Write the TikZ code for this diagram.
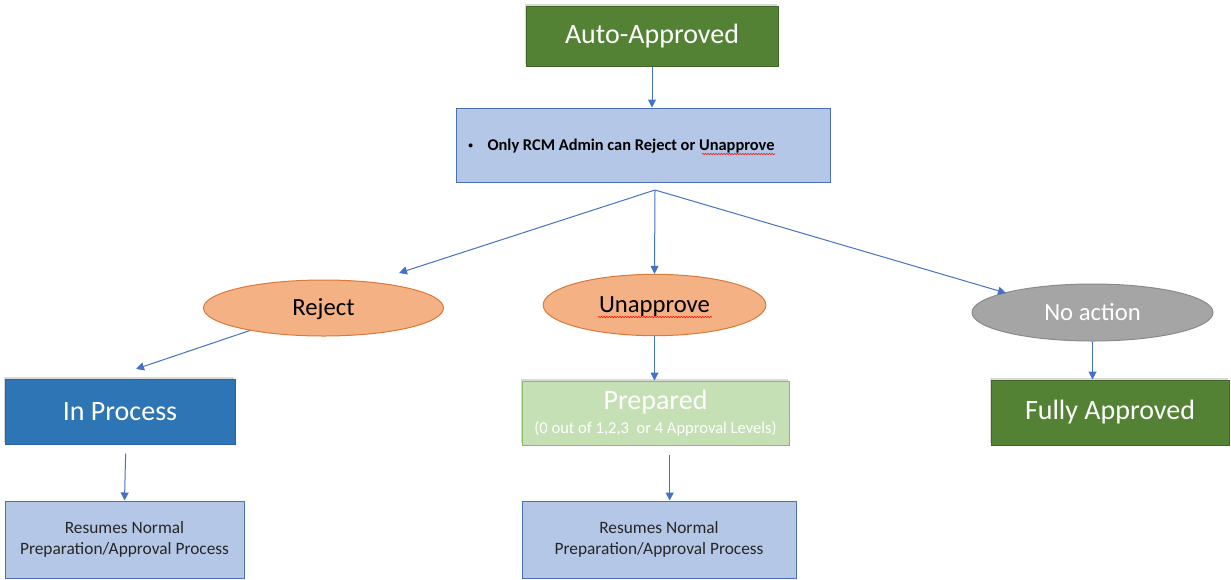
\documentclass[tikz,border=0pt]{standalone}
\usepackage{fontspec}
\setmainfont{Carlito}
\usetikzlibrary{arrows.meta}
\usetikzlibrary{shapes.geometric}
\usetikzlibrary{shadows}
\usetikzlibrary{decorations.pathmorphing}
\definecolor{okgreen}{HTML}{548235}
\definecolor{okgreenline}{HTML}{41662A}
\definecolor{procblue}{HTML}{2E75B6}
\definecolor{procline}{HTML}{2A62A0}
\definecolor{paleblue}{HTML}{B4C7E7}
\definecolor{palebline}{HTML}{4A6FB5}
\definecolor{palegreen}{HTML}{C5E0B4}
\definecolor{palegline}{HTML}{8DB96A}
\definecolor{peach}{HTML}{F4B183}
\definecolor{peachline}{HTML}{D9793A}
\definecolor{stone}{HTML}{A5A5A5}
\definecolor{stoneline}{HTML}{8A8A8A}
\definecolor{flowblue}{HTML}{4472C4}
\definecolor{inktext}{HTML}{262626}

\begin{document}
\begin{tikzpicture}[x=0.75pt, y=-0.75pt,
	shade/.style={drop shadow={shadow xshift=-1pt, shadow yshift=1.5pt, opacity=0.3}},
	bigbox/.style={rectangle, draw, line width=0.75pt, inner sep=0pt, text=white, font=\fontsize{21}{24}\selectfont, shade},
	notebox/.style={rectangle, draw=palebline, fill=paleblue, line width=0.75pt, inner sep=0pt, text=inktext, align=center, font=\fontsize{13}{15.75}\selectfont},
	choice/.style={ellipse, draw, line width=0.75pt, inner sep=0pt, text depth=1pt, font=\fontsize{18.5}{22}\selectfont},
	flow/.style={draw=flowblue, line width=0.75pt, -{Triangle[length=6pt, width=6pt]}},
	spell/.style={draw=red, line width=0.4pt, decorate, decoration={snake, amplitude=0.5pt, segment length=2pt}}]
	\useasboundingbox (0,0) rectangle (1231,579);
	% top
	\node[bigbox, fill=okgreen, draw=okgreenline, minimum width=189pt, minimum height=45pt] (auto) at (652,36) {Auto-Approved};
	\node[rectangle, draw=palebline, fill=paleblue, line width=0.75pt, minimum width=280.5pt, minimum height=55.5pt] (rule) at (643,145) {};
	\node[anchor=base west, inner sep=0pt, font=\fontsize{12.3}{14}\selectfont\bfseries] (ruletext) at (468,150.5)
		{\raisebox{1.5pt}{\fontsize{7}{7}\selectfont\textbullet}\hspace{11pt}Only RCM Admin can Reject or Unapprove};
	\draw[spell] (702,154) -- (775,154);
	\coordinate (split) at (655,190);
	% choices
	\node[choice, fill=peach, draw=peachline, minimum width=180pt, minimum height=42pt] (reject) at (323.5,308) {Reject};
	\node[choice, fill=peach, draw=peachline, minimum width=167pt, minimum height=46pt] (unapp) at (654.5,305) {Unapprove};
	\draw[spell] (598,317) -- (712,317);
	\node[choice, fill=stone, draw=stoneline, text=white, minimum width=180.75pt, minimum height=42.75pt] (noact) at (1092.5,312.5) {No action};
	\coordinate (rejectend) at (399,273);
	\coordinate (noactend) at (1006,293);
	\coordinate (inprocend) at (136,369);
	% states
	\node[bigbox, fill=procblue, draw=procline, minimum width=172.5pt, minimum height=48.75pt] (inproc) at (120,411.5) {In Process};
	\node[bigbox, fill=palegreen, draw=palegline, minimum width=200.25pt, minimum height=48pt, align=center] (prep) at (655.5,413)
		{Prepared\\[-6pt]{\fontsize{12.4}{14}\selectfont (0 out of 1,2,3~~or 4 Approval Levels)}};
	\node[bigbox, fill=okgreen, draw=okgreenline, minimum width=178.5pt, minimum height=48.75pt] (full) at (1110,412.5) {Fully Approved};
	\node[notebox, minimum width=179.25pt, minimum height=57.75pt] (resume1) at (124.5,539.5) {Resumes Normal\\Preparation/Approval Process};
	\node[notebox, minimum width=205.5pt, minimum height=57.75pt] (resume2) at (659,539.5) {Resumes Normal\\Preparation/Approval Process};
	% arrows
	\draw[flow] (auto.south) -- (rule.north -| auto.south);
	\draw[flow] (split) -- (rejectend);
	\draw[flow] (split) -- (unapp.north);
	\draw[flow] (split) -- (noactend);
	\draw[flow] (reject.197) -- (inprocend);
	\draw[flow] (unapp.south) -- (unapp.south |- prep.north);
	\draw[flow] (noact.south) -- (noact.south |- full.north);
	\draw[flow, shorten <=6.75pt] ([xshift=1pt]inproc.south -| resume1.north) -- (resume1.north);
	\draw[flow, shorten <=6.75pt] ([xshift=8pt]prep.south -| resume2.north) -- ([xshift=8pt]resume2.north);
\end{tikzpicture}
\end{document}
